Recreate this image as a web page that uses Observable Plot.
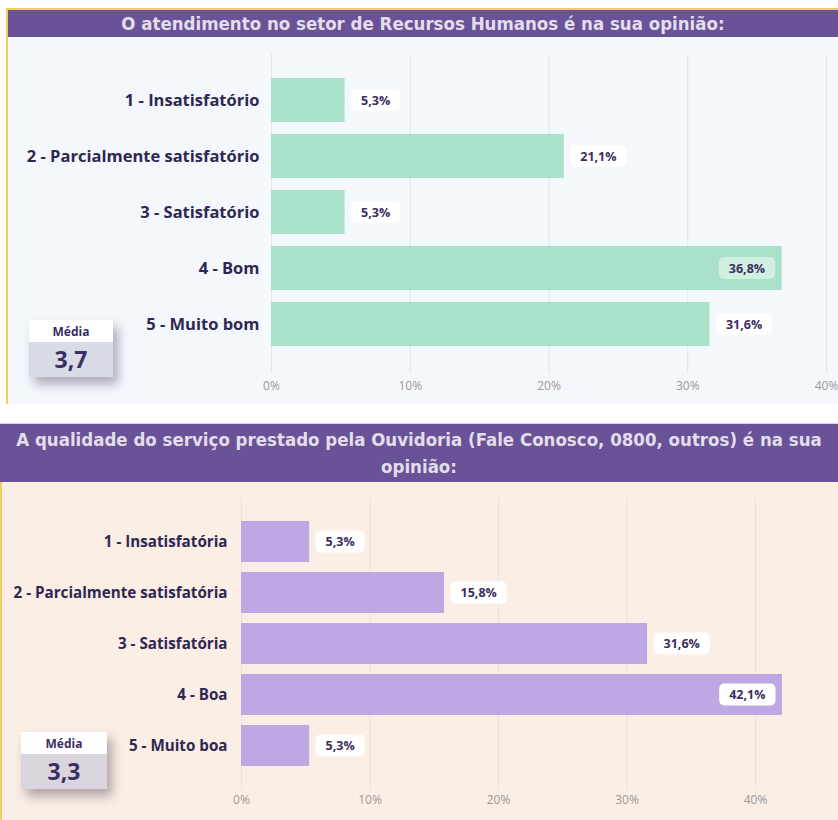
<!DOCTYPE html>
<html>
<head>
<meta charset="utf-8">
<script src="https://cdn.jsdelivr.net/npm/d3@7"></script>
<script src="https://cdn.jsdelivr.net/npm/@observablehq/plot@0.6"></script>
<style>
  html, body { margin: 0; padding: 0; background: #ffffff; }
  body { width: 838px; height: 820px; position: relative; overflow: hidden; font-family: "Open Sans", sans-serif; }
  .panel { position: absolute; box-sizing: border-box; }
  #p1 { left: 6px; top: 8px; width: 832px; height: 396px; border-top: 2px solid #f3cf5a; border-left: 2px solid #f3cf5a; background: #f4f7fc; }
  #p2 { left: 0px; top: 423px; width: 838px; height: 397px; border-top: 1px solid #d8d3e4; border-left: 2px solid #f3cf5a; background: #fbeee5; }
  .title { background: #6a5299; color: #e2dfea; font-family: "DejaVu Sans Condensed", "Liberation Sans Narrow", sans-serif; font-weight: bold; font-size: 18.5px; text-align: center; line-height: 27px; white-space: nowrap; }
  #p1 .title { height: 27px; }
  #p2 .title { height: 58px; padding-top: 2px; box-sizing: border-box; margin-left: -2px; }
  .media { position: absolute; width: 84px; box-shadow: 5px 7px 10px rgba(40,30,60,0.35); font-family: "Open Sans", sans-serif; font-weight: bold; color: #3a2d66; text-align: center; }
  .media .lbl { background: #ffffff; height: 22px; line-height: 24px; font-size: 12px; }
  .media .val { height: 35px; line-height: 35px; font-size: 23px; }
  svg { display: block; }
</style>
</head>
<body>
<div class="panel" id="p1"><div class="title" id="t1"></div><div id="c1"></div></div>
<div class="panel" id="p2"><div class="title" id="t2"></div><div id="c2"></div></div>
<div class="media" id="m1" style="left:29px; top:320px;"><div class="lbl">Média</div><div class="val" style="background:#d9dbe7"></div></div>
<div class="media" id="m2" style="left:21px; top:732px; width:86px;"><div class="lbl">Média</div><div class="val" style="background:#dad5dd"></div></div>
<script>
// ---- data ----
const titleRH = "O atendimento no setor de Recursos Humanos é na sua opinião:";
const categoriesRH = ["1 - Insatisfatório", "2 - Parcialmente satisfatório", "3 - Satisfatório", "4 - Bom", "5 - Muito bom"];
const valuesRH = [5.3, 21.1, 5.3, 36.8, 31.6];
const mediaRH = "3,7";

const titleOuvLine1 = "A qualidade do serviço prestado pela Ouvidoria (Fale Conosco, 0800, outros) é na sua";
const titleOuvLine2 = "opinião:";
const categoriesOuv = ["1 - Insatisfatória", "2 - Parcialmente satisfatória", "3 - Satisfatória", "4 - Boa", "5 - Muito boa"];
const valuesOuv = [5.3, 15.8, 31.6, 42.1, 5.3];
const mediaOuv = "3,3";

const xTicks = [0, 10, 20, 30, 40];
const xTickLabels = ["0%", "10%", "20%", "30%", "40%"];

const fmt = v => v.toFixed(1).replace(".", ",") + "%";

document.getElementById("t1").textContent = titleRH;
document.getElementById("t2").append(titleOuvLine1, document.createElement("br"), titleOuvLine2);
document.querySelector("#m1 .val").textContent = mediaRH;
document.querySelector("#m2 .val").textContent = mediaOuv;

function makeChart(cfg) {
  const data = cfg.categories.map((c, i) => ({cat: c, value: cfg.values[i], inside: cfg.values[i] > cfg.insideAt}));
  const ticks = xTicks.map((t, i) => ({t, label: xTickLabels[i]}));
  const labelStyle = {fill: "#3b2d5e", fontWeight: "bold", fontSize: 12.5};
  const plot = Plot.plot({
    width: cfg.width, height: cfg.height,
    marginLeft: cfg.marginLeft, marginRight: cfg.marginRight,
    marginTop: cfg.marginTop, marginBottom: cfg.marginBottom,
    style: {background: "transparent", fontFamily: "Open Sans, sans-serif"},
    x: {domain: [0, 40], axis: null},
    y: {domain: cfg.categories, axis: null, padding: cfg.padding, insetTop: cfg.insetTop, insetBottom: cfg.insetBottom},
    marks: [
      Plot.ruleX(xTicks, {x: d => d, stroke: "#e4e4e6", strokeWidth: 1}),
      Plot.barX(data, {x: "value", y: "cat", fill: cfg.color}),
      Plot.text(data, {x: 0, y: "cat", text: "cat", textAnchor: "end", dx: cfg.catDx, fill: "#2e2752", fontWeight: "bold", fontSize: cfg.catSize}),
      Plot.text(data.filter(d => !d.inside), {x: "value", y: "cat", text: d => fmt(d.value), textAnchor: "start", dx: 16, ...labelStyle}),
      Plot.text(data.filter(d => d.inside), {x: "value", y: "cat", text: d => fmt(d.value), textAnchor: "end", dx: -17, ...labelStyle}),
      Plot.text(ticks, {x: "t", text: "label", frameAnchor: "bottom", dy: cfg.tickDy, lineAnchor: "middle", fill: "#9a9a9a", fontSize: 12})
    ]
  });
  return {plot, data};
}

function addBoxes(container, data, insideOpacity) {
  const texts = Array.from(container.querySelectorAll("text")).filter(t => t.textContent.includes(",") && t.textContent.endsWith("%"));
  texts.forEach(t => {
    const b = t.getBBox();
    const r = document.createElementNS("http://www.w3.org/2000/svg", "rect");
    r.setAttribute("x", b.x - 10);
    r.setAttribute("y", b.y + b.height / 2 - 11);
    r.setAttribute("width", b.width + 20);
    r.setAttribute("height", 22);
    r.setAttribute("rx", 5);
    r.setAttribute("fill", "#ffffff");
    const isInside = data.some(d => d.inside && fmt(d.value) === t.textContent);
    if (isInside) r.setAttribute("fill-opacity", insideOpacity);
    if (t.getAttribute("transform")) r.setAttribute("transform", t.getAttribute("transform"));
    t.parentNode.insertBefore(r, t);
  });
}

const c1 = makeChart({
  categories: categoriesRH, values: valuesRH, color: "#a9e2c9", insideAt: 35,
  width: 830, height: 367, marginLeft: 263, marginRight: 12, marginTop: 17, marginBottom: 31,
  insetTop: 10.6, insetBottom: 13.4, padding: 0.22, catDx: -12, catSize: 16.5, tickDy: 13
});
document.getElementById("c1").append(c1.plot);
addBoxes(c1.plot, c1.data, 0.45);

const c2 = makeChart({
  categories: categoriesOuv, values: valuesOuv, color: "#bda8e3", insideAt: 35,
  width: 836, height: 338, marginLeft: 239, marginRight: 83, marginTop: 15, marginBottom: 30,
  insetTop: 13.3, insetBottom: 13.7, padding: 0.19, catDx: -14, catSize: 15.2, tickDy: 10
});
document.getElementById("c2").append(c2.plot);
addBoxes(c2.plot, c2.data, 1);
</script>
</body>
</html>
